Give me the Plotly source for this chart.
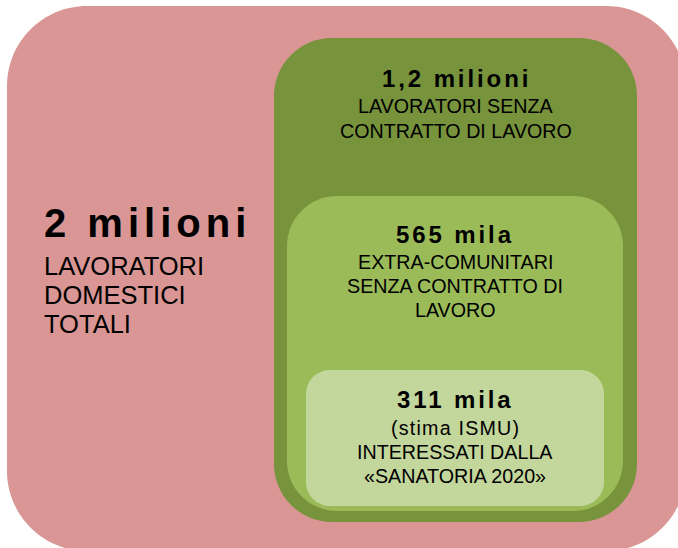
import plotly.graph_objects as go

# ---- data ----
groups = ["totali", "senza contratto", "extra-comunitari", "sanatoria 2020"]
workers = [2000000, 1200000, 565000, 311000]
headline = ["2 milioni", "1,2 milioni", "565 mila", "311 mila"]
descriptions = [
    ["LAVORATORI", "DOMESTICI", "TOTALI"],
    ["LAVORATORI SENZA", "CONTRATTO DI LAVORO"],
    ["EXTRA-COMUNITARI", "SENZA CONTRATTO DI", "LAVORO"],
    ["(stima ISMU)", "INTERESSATI DALLA", "«SANATORIA 2020»"],
]

# ---- layout / style (not data) ----
W, H = 678, 548
colors = ["#D99694", "#77933C", "#9BBB59", "#C3D69B"]
boxes = [  # x0, y0, x1, y1, radius
    (7, 6, 686, 551, 80),
    (274, 38, 637, 522, 58),
    (287, 196, 623, 511, 50),
    (306, 370, 604, 506, 24),
]
# text anchor positions: (x, anchor, headline y, first desc y, line step)
text_pos = [
    (42, "left", 223, 266, 29),
    (456, "center", 78, 106, 25),
    (455, "center", 234, 262, 24),
    (455, "center", 399, 428, 24),
]
head_sizes = [40, 24, 24, 24]
desc_sizes = [25.5, 19.7, 19.7, 19.7]
FONT = "Liberation Sans, Arial, sans-serif"


def rounded_path(x0, y0, x1, y1, r):
    k = 0.5523 * r
    return (
        f"M {x0+r},{y0} L {x1-r},{y0} "
        f"C {x1-r+k},{y0} {x1},{y0+r-k} {x1},{y0+r} "
        f"L {x1},{y1-r} "
        f"C {x1},{y1-r+k} {x1-r+k},{y1} {x1-r},{y1} "
        f"L {x0+r},{y1} "
        f"C {x0+r-k},{y1} {x0},{y1-r+k} {x0},{y1-r} "
        f"L {x0},{y0+r} "
        f"C {x0},{y0+r-k} {x0+r-k},{y0} {x0+r},{y0} Z"
    )


fig = go.Figure()
fig.add_trace(go.Scatter(x=[0, W], y=[0, H], mode="markers",
                         marker=dict(opacity=0), hoverinfo="skip", showlegend=False))

shapes = []
for (x0, y0, x1, y1, r), c in zip(boxes, colors):
    shapes.append(dict(type="path", path=rounded_path(x0, y0, x1, y1, r),
                       xref="x", yref="y", fillcolor=c, line=dict(width=0),
                       layer="below"))

annotations = []
for i, (head, desc) in enumerate(zip(headline, descriptions)):
    x, anchor, hy, dy0, step = text_pos[i]
    hsize = head_sizes[i]
    dsize = desc_sizes[i]
    spacing = (0.125 if i == 0 else 0.12) * hsize
    annotations.append(dict(
        x=x, y=hy, xref="x", yref="y", xanchor=anchor, yanchor="middle",
        text=f"<span style='letter-spacing:{spacing:.1f}px'><b>{head}</b></span>",
        showarrow=False, font=dict(family=FONT, size=hsize, color="black")))
    for j, line in enumerate(desc):
        txt = line
        if line.startswith("("):
            txt = f"<span style='letter-spacing:1.2px'>{line}</span>"
        annotations.append(dict(
            x=x, y=dy0 + j * step, xref="x", yref="y", xanchor=anchor, yanchor="middle",
            text=txt, showarrow=False,
            font=dict(family=FONT, size=dsize, color="black")))

fig.update_layout(
    width=W, height=H, margin=dict(l=0, r=0, t=0, b=0),
    paper_bgcolor="white", plot_bgcolor="white",
    xaxis=dict(range=[0, W], visible=False, fixedrange=True),
    yaxis=dict(range=[H, 0], visible=False, fixedrange=True),
    shapes=shapes, annotations=annotations, showlegend=False,
)

fig.write_html(
    "out.html",
    config={"displayModeBar": False},
    post_script="document.body.style.margin='0';document.body.style.overflow='hidden';",
)
